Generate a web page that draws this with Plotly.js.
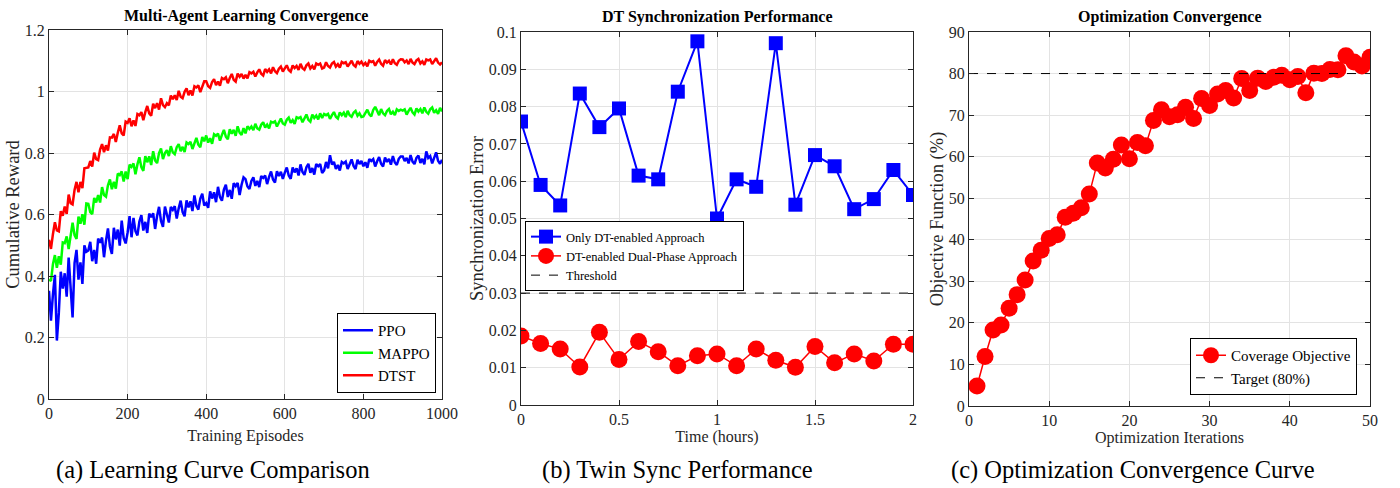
<!DOCTYPE html>
<html>
<head>
<meta charset="utf-8">
<script src="https://cdn.plot.ly/plotly-3.0.1.min.js"></script>
<style>html,body{margin:0;padding:0;background:#fff;}#chart{width:1400px;height:488px;}</style>
</head>
<body>
<div id="chart"></div>
<script>
// ---------- Panel (a) data ----------
const episodes = [
0,5,10,15,20,25,30,35,40,45,50,55,60,65,70,75,80,85,90,95,
100,105,110,115,120,125,130,135,140,145,150,155,160,165,170,175,180,185,190,195,
200,205,210,215,220,225,230,235,240,245,250,255,260,265,270,275,280,285,290,295,
300,305,310,315,320,325,330,335,340,345,350,355,360,365,370,375,380,385,390,395,
400,405,410,415,420,425,430,435,440,445,450,455,460,465,470,475,480,485,490,495,
500,505,510,515,520,525,530,535,540,545,550,555,560,565,570,575,580,585,590,595,
600,605,610,615,620,625,630,635,640,645,650,655,660,665,670,675,680,685,690,695,
700,705,710,715,720,725,730,735,740,745,750,755,760,765,770,775,780,785,790,795,
800,805,810,815,820,825,830,835,840,845,850,855,860,865,870,875,880,885,890,895,
900,905,910,915,920,925,930,935,940,945,950,955,960,965,970,975,980,985,990,995,
1000];

const ppoReward = [
0.352,0.255,0.34,0.404,0.19,0.28,0.414,0.359,0.409,0.333,0.46,0.377,0.265,0.442,0.485,0.388,0.444,0.374,0.50,0.479,
0.483,0.511,0.448,0.485,0.44,0.522,0.508,0.525,0.461,0.515,0.555,0.496,0.472,0.557,0.519,0.551,0.499,0.58,0.524,0.506,
0.541,0.595,0.526,0.589,0.546,0.532,0.577,0.598,0.548,0.576,0.54,0.603,0.591,0.604,0.553,0.595,0.625,0.579,0.56,0.626,
0.603,0.574,0.625,0.615,0.627,0.587,0.62,0.645,0.608,0.594,0.646,0.623,0.643,0.611,0.662,0.628,0.616,0.652,0.668,0.629,
0.637,0.622,0.675,0.652,0.672,0.64,0.69,0.657,0.645,0.681,0.697,0.657,0.68,0.651,0.702,0.692,0.703,0.663,0.697,0.721,
0.715,0.691,0.683,0.709,0.721,0.693,0.709,0.689,0.725,0.719,0.727,0.699,0.722,0.74,0.714,0.704,0.741,0.725,0.739,0.716,
0.736,0.753,0.727,0.716,0.753,0.737,0.75,0.727,0.763,0.738,0.729,0.754,0.765,0.736,0.751,0.73,0.764,0.757,0.764,0.735,
0.743,0.771,0.75,0.793,0.763,0.771,0.748,0.761,0.743,0.771,0.766,0.772,0.748,0.766,0.779,0.758,0.748,0.778,0.764,0.774,
0.757,0.77,0.752,0.78,0.774,0.78,0.756,0.773,0.787,0.765,0.756,0.785,0.771,0.781,0.762,0.79,0.769,0.761,0.781,0.789,
0.789,0.774,0.784,0.766,0.793,0.772,0.764,0.784,0.792,0.768,0.781,0.763,0.805,0.784,0.79,0.766,0.783,0.802,0.775,0.765,
0.778];

const mappoReward = [
0.389,0.384,0.438,0.468,0.427,0.464,0.437,0.509,0.507,0.529,0.488,0.536,0.573,0.533,0.521,0.593,0.57,0.601,0.567,0.636,
0.635,0.608,0.601,0.654,0.639,0.663,0.639,0.689,0.663,0.658,0.695,0.714,0.682,0.706,0.684,0.733,0.728,0.74,0.707,0.74,
0.715,0.762,0.755,0.766,0.731,0.763,0.786,0.754,0.742,0.79,0.77,0.789,0.761,0.806,0.776,0.767,0.80,0.815,0.78,0.80,
0.809,0.79,0.822,0.802,0.796,0.819,0.829,0.806,0.82,0.803,0.834,0.829,0.836,0.813,0.833,0.849,0.827,0.819,0.852,0.838,
0.857,0.834,0.848,0.83,0.861,0.856,0.863,0.84,0.859,0.875,0.853,0.845,0.877,0.863,0.875,0.856,0.887,0.866,0.859,0.881,
0.864,0.887,0.878,0.886,0.874,0.895,0.88,0.876,0.892,0.90,0.883,0.892,0.88,0.902,0.899,0.903,0.886,0.90,0.912,0.896,
0.892,0.908,0.915,0.898,0.907,0.895,0.916,0.913,0.917,0.90,0.914,0.925,0.908,0.902,0.925,0.914,0.922,0.909,0.929,0.914,
0.927,0.923,0.927,0.911,0.923,0.933,0.918,0.912,0.932,0.923,0.931,0.917,0.937,0.923,0.918,0.931,0.937,0.921,0.929,0.917,
0.919,0.931,0.941,0.926,0.919,0.94,0.95,0.937,0.923,0.943,0.929,0.923,0.937,0.943,0.926,0.934,0.923,0.942,0.937,0.941,
0.938,0.942,0.925,0.937,0.947,0.932,0.925,0.945,0.935,0.943,0.929,0.948,0.934,0.928,0.942,0.948,0.931,0.939,0.927,0.947,
0.935];

const dtstReward = [
0.518,0.488,0.536,0.575,0.548,0.545,0.611,0.596,0.626,0.602,0.665,0.637,0.633,0.68,0.706,0.672,0.706,0.686,0.75,0.751,
0.753,0.774,0.756,0.801,0.78,0.777,0.811,0.829,0.803,0.825,0.808,0.851,0.85,0.862,0.836,0.866,0.89,0.864,0.857,0.902,
0.898,0.913,0.887,0.906,0.888,0.927,0.923,0.933,0.907,0.933,0.953,0.929,0.921,0.96,0.946,0.962,0.941,0.978,0.956,0.949,
0.962,0.955,0.987,0.975,0.988,0.972,1.002,0.983,0.978,0.999,1.01,0.988,1.003,0.987,1.017,1.013,1.02,0.998,1.018,1.033,
1.033,1.017,1.012,1.031,1.04,1.021,1.032,1.019,1.044,1.04,1.046,1.027,1.044,1.057,1.038,1.032,1.058,1.048,1.057,1.042,
1.054,1.043,1.063,1.059,1.064,1.049,1.062,1.072,1.058,1.052,1.073,1.064,1.072,1.059,1.079,1.066,1.06,1.074,1.081,1.065,
1.075,1.085,1.07,1.064,1.085,1.076,1.083,1.07,1.09,1.076,1.071,1.085,1.091,1.075,1.083,1.072,1.091,1.087,1.091,1.075,
1.078,1.095,1.083,1.078,1.091,1.096,1.081,1.089,1.078,1.096,1.092,1.095,1.081,1.092,1.10,1.086,1.081,1.099,1.09,1.097,
1.086,1.093,1.082,1.10,1.096,1.099,1.084,1.096,1.104,1.09,1.084,1.102,1.094,1.10,1.088,1.105,1.092,1.087,1.10,1.105,
1.104,1.095,1.101,1.089,1.106,1.094,1.089,1.101,1.106,1.091,1.098,1.087,1.104,1.101,1.104,1.089,1.10,1.108,1.094,1.088,
1.095];

// ---------- Panel (b) data ----------
const timeHours = [0,0.1,0.2,0.3,0.4,0.5,0.6,0.7,0.8,0.9,1.0,1.1,1.2,1.3,1.4,1.5,1.6,1.7,1.8,1.9,2.0];
const onlyDTError = [0.076,0.059,0.0535,0.0835,0.0745,0.0795,0.0615,0.0605,0.084,0.0975,0.050,0.0605,0.0585,0.097,0.0537,0.067,0.064,0.0525,0.0552,0.063,0.0563];
const dualPhaseError = [0.0185,0.0165,0.015,0.0102,0.0195,0.0122,0.017,0.0143,0.0105,0.0132,0.0137,0.0105,0.015,0.012,0.0101,0.0157,0.0113,0.0137,0.0118,0.0163,0.0163];
const syncThreshold = 0.03;
const timeRange = [0, 2];

// ---------- Panel (c) data ----------
const iterations = [1,2,3,4,5,6,7,8,9,10,11,12,13,14,15,16,17,18,19,20,21,22,23,24,25,26,27,28,29,30,31,32,33,34,35,36,37,38,39,40,41,42,43,44,45,46,47,48,49,50];
const coverageObjective = [4.8,11.9,18.3,19.5,23.5,26.8,30.3,34.9,37.5,40.3,41.2,45.4,46.4,47.7,51.0,58.5,57.3,59.4,62.8,59.5,63.4,62.6,68.7,71.3,69.6,70.1,71.9,69.2,74.0,72.3,75.1,75.9,74.1,78.8,75.9,78.9,78.1,79.1,79.6,78.5,79.3,75.4,80.1,80.0,81.0,80.9,84.3,82.8,81.8,83.9];
const targetObjective = 80;
const iterRange = [0, 50];

if (ppoReward.length !== episodes.length || mappoReward.length !== episodes.length || dtstReward.length !== episodes.length) {
  throw new Error('length mismatch ' + episodes.length + ' ' + ppoReward.length + ' ' + mappoReward.length + ' ' + dtstReward.length);
}

const SERIF = 'Liberation Serif, Times New Roman, serif';
const AXC = '#262626';

const traces = [
  {x: episodes, y: ppoReward, type: 'scatter', mode: 'lines', name: 'PPO', line: {color: '#0000ff', width: 2.5}, xaxis: 'x', yaxis: 'y', legend: 'legend'},
  {x: episodes, y: mappoReward, type: 'scatter', mode: 'lines', name: 'MAPPO', line: {color: '#00ff00', width: 2.5}, xaxis: 'x', yaxis: 'y', legend: 'legend'},
  {x: episodes, y: dtstReward, type: 'scatter', mode: 'lines', name: 'DTST', line: {color: '#ff0000', width: 2.5}, xaxis: 'x', yaxis: 'y', legend: 'legend'},

  {x: timeHours, y: onlyDTError, type: 'scatter', mode: 'lines+markers', name: 'Only DT-enabled Approach',
   line: {color: '#0000ff', width: 2}, marker: {symbol: 'square', size: 14, color: '#0000ff'}, xaxis: 'x2', yaxis: 'y2', legend: 'legend2'},
  {x: timeHours, y: dualPhaseError, type: 'scatter', mode: 'lines+markers', name: 'DT-enabled Dual-Phase Approach',
   line: {color: '#ff0000', width: 1.5}, marker: {symbol: 'circle', size: 17, color: '#ff0000'}, xaxis: 'x2', yaxis: 'y2', legend: 'legend2'},
  {x: timeRange, y: [syncThreshold, syncThreshold], type: 'scatter', mode: 'lines', name: 'Threshold',
   line: {color: '#000000', width: 1, dash: 'dash'}, xaxis: 'x2', yaxis: 'y2', legend: 'legend2'},

  {x: iterations, y: coverageObjective, type: 'scatter', mode: 'lines+markers', name: 'Coverage Objective',
   line: {color: '#ff0000', width: 1.5}, marker: {symbol: 'circle', size: 17, color: '#ff0000'}, xaxis: 'x3', yaxis: 'y3', legend: 'legend3'},
  {x: iterRange, y: [targetObjective, targetObjective], type: 'scatter', mode: 'lines', name: 'Target (80%)',
   line: {color: '#000000', width: 1, dash: 'dash'}, xaxis: 'x3', yaxis: 'y3', legend: 'legend3'}
];

function ax(extra) {
  return Object.assign({
    showline: true, linecolor: AXC, linewidth: 1, mirror: 'ticks',
    ticks: 'inside', ticklen: 5, tickwidth: 1, tickcolor: AXC,
    showgrid: true, gridcolor: '#e3e3e3', gridwidth: 1,
    zeroline: false, fixedrange: true,
    tickfont: {family: SERIF, size: 16, color: AXC}
  }, extra);
}
function ttl(t, size, standoff) {
  return {text: t, font: {family: SERIF, size: size, color: AXC}, standoff: standoff};
}
function legendBox(x, y, xa, ya, size) {
  return {x: x, y: y, xref: 'paper', yref: 'paper', xanchor: xa, yanchor: ya,
    bgcolor: '#ffffff', bordercolor: '#000000', borderwidth: 1,
    font: {family: SERIF, size: size, color: '#000000'}, tracegroupgap: 0, itemwidth: 30};
}

const W = 1400, H = 488;
const layout = {
  width: W, height: H,
  margin: {l: 0, r: 0, t: 0, b: 0},
  paper_bgcolor: '#ffffff', plot_bgcolor: '#ffffff',
  showlegend: true,
  font: {family: SERIF, color: AXC},
  xaxis: ax({domain: [49/W, 442/W], range: [0, 1000], dtick: 200, anchor: 'y', title: ttl('Training Episodes', 16, 8)}),
  yaxis: ax({domain: [1 - 399/H, 1 - 30/H], range: [0, 1.2], dtick: 0.2, anchor: 'x', title: ttl('Cumulative Reward', 18.5, 0)}),
  xaxis2: ax({domain: [521/W, 913/W], range: [0, 2], dtick: 0.5, anchor: 'y2', title: ttl('Time (hours)', 16, 3)}),
  yaxis2: ax({domain: [1 - 405/H, 1 - 32/H], range: [0, 0.1], dtick: 0.01, anchor: 'x2', title: ttl('Synchronization Error', 18.5, 0)}),
  xaxis3: ax({domain: [969/W, 1370/W], range: [0, 50], dtick: 10, anchor: 'y3', title: ttl('Optimization Iterations', 16, 2)}),
  yaxis3: ax({domain: [1 - 406/H, 1 - 32/H], range: [0, 90], dtick: 10, anchor: 'x3', title: ttl('Objective Function (%)', 18.5, 0)}),
  legend: legendBox(436/W, 1 - 393/H, 'right', 'bottom', 15),
  legend2: legendBox(525/W, 1 - 291/H, 'left', 'bottom', 12.5),
  legend3: legendBox(1357/W, 1 - 395/H, 'right', 'bottom', 15),
  annotations: [
    {text: '<b>Multi-Agent Learning Convergence</b>', x: 245.5/W, y: 1 - 16/H, xref: 'paper', yref: 'paper', showarrow: false, xanchor: 'center', yanchor: 'middle', font: {family: SERIF, size: 16, color: '#000'}},
    {text: '<b>DT Synchronization Performance</b>', x: 717/W, y: 1 - 17/H, xref: 'paper', yref: 'paper', showarrow: false, xanchor: 'center', yanchor: 'middle', font: {family: SERIF, size: 16, color: '#000'}},
    {text: '<b>Optimization Convergence</b>', x: 1169.5/W, y: 1 - 17/H, xref: 'paper', yref: 'paper', showarrow: false, xanchor: 'center', yanchor: 'middle', font: {family: SERIF, size: 16, color: '#000'}},
    {text: '(a) Learning Curve Comparison', x: 213/W, y: 1 - 470/H, xref: 'paper', yref: 'paper', showarrow: false, xanchor: 'center', yanchor: 'middle', font: {family: SERIF, size: 24.5, color: '#000'}},
    {text: '(b) Twin Sync Performance', x: 677/W, y: 1 - 470/H, xref: 'paper', yref: 'paper', showarrow: false, xanchor: 'center', yanchor: 'middle', font: {family: SERIF, size: 24.5, color: '#000'}},
    {text: '(c) Optimization Convergence Curve', x: 1133/W, y: 1 - 470/H, xref: 'paper', yref: 'paper', showarrow: false, xanchor: 'center', yanchor: 'middle', font: {family: SERIF, size: 24.5, color: '#000'}}
  ]
};

Plotly.newPlot('chart', traces, layout, {displayModeBar: false, staticPlot: true});
</script>
</body>
</html>
